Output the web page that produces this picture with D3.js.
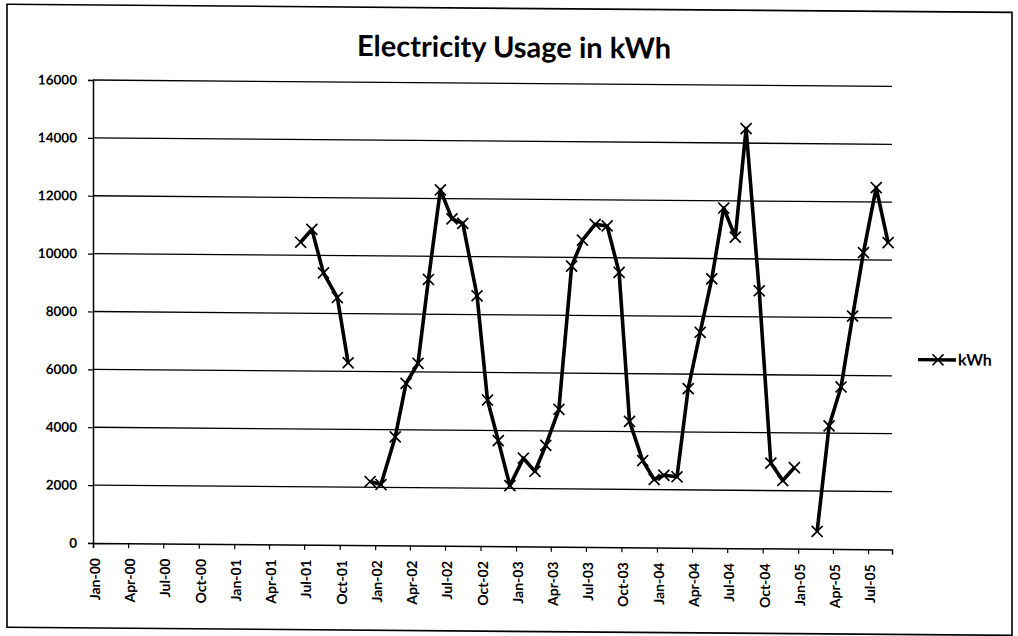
<!DOCTYPE html>
<html>
<head>
<meta charset="utf-8">
<script src="https://cdn.jsdelivr.net/npm/d3@7/dist/d3.min.js"></script>
<style>
  html, body { margin: 0; padding: 0; background: #fff; }
  svg { display: block; }
  text { font-family: Lato, "Open Sans", sans-serif; fill: #000; }
</style>
</head>
<body>
<svg id="chart" width="1018" height="636"></svg>
<script>
// ---- data ----
const chartTitle = "Electricity Usage in kWh";
const seriesName = "kWh";
const readingDates = [
  "2001-06-22","2001-07-21","2001-08-20","2001-09-25","2001-10-23","2001-11-22",
  "2001-12-19","2002-01-16","2002-02-22","2002-03-22","2002-04-22","2002-05-19",
  "2002-06-19","2002-07-19","2002-08-16","2002-09-22","2002-10-19","2002-11-16",
  "2002-12-16","2003-01-20","2003-02-19","2003-03-19","2003-04-22","2003-05-25",
  "2003-06-22","2003-07-25","2003-08-25","2003-09-25","2003-10-22","2003-11-25",
  "2003-12-25","2004-01-19","2004-02-22","2004-03-22","2004-04-22","2004-05-22",
  "2004-06-22","2004-07-22","2004-08-19","2004-09-22","2004-10-22","2004-11-22",
  "2004-12-22","2005-01-20","2005-02-19","2005-03-22","2005-04-22","2005-05-22",
  "2005-06-19","2005-07-22","2005-08-22"
];
const kwhValues = [
  10450, 10900, 9400, 8550, 6300, null,
  2200, 2100, 3750, 5600, 6300, 9200,
  12300, 11300, 11150, 8650, 5050, 3650,
  2100, 3050, 2600, 3500, 4750, 9700,
  10600, 11150, 11100, 9500, 4350, 3000,
  2350, 2500, 2450, 5500, 7450, 9300,
  11750, 10750, 14500, 8900, 2950, 2350,
  2800, null, 600, 4250, 5600, 8050,
  10250, 12500, 10600
];
const xTickLabels = [
  "Jan-00","Apr-00","Jul-00","Oct-00","Jan-01","Apr-01","Jul-01","Oct-01",
  "Jan-02","Apr-02","Jul-02","Oct-02","Jan-03","Apr-03","Jul-03","Oct-03",
  "Jan-04","Apr-04","Jul-04","Oct-04","Jan-05","Apr-05","Jul-05"
];
const xDomainLabels = ["Jan-00", "Sep-05"];
const yTicks = [0, 2000, 4000, 6000, 8000, 10000, 12000, 14000, 16000];

// ---- layout ----
const W = 1018, H = 636;
const plot = { left: 93, right: 892, top: 80, bottom: 543 };

const parseDay = d3.timeParse("%Y-%m-%d");
const parseTick = d3.timeParse("%b-%y");

const svg = d3.select("#chart");
svg.append("rect").attr("width", W).attr("height", H).attr("fill", "#fff");

// slight scan tilt: horizontal lines drop toward the right
const g = svg.append("g")
  .attr("transform", `translate(${plot.left},0) skewY(0.46) translate(${-plot.left},0)`);

// outer border
g.append("rect")
  .attr("x", 7).attr("y", 5).attr("width", 1005).attr("height", 623)
  .attr("fill", "none").attr("stroke", "#000").attr("stroke-width", 1.6);

const x = d3.scaleTime()
  .domain(xDomainLabels.map(parseTick))
  .range([plot.left, plot.right]);
const y = d3.scaleLinear()
  .domain([0, 16000])
  .range([plot.bottom, plot.top]);

// title
g.append("text")
  .attr("x", 514).attr("y", 54)
  .attr("text-anchor", "middle")
  .style("font-size", "29px").style("font-weight", "bold")
  .text(chartTitle);

// gridlines
g.append("g").selectAll("line")
  .data(yTicks.filter(v => v > 0))
  .join("line")
  .attr("x1", plot.left).attr("x2", plot.right)
  .attr("y1", d => y(d)).attr("y2", d => y(d))
  .attr("stroke", "#000").attr("stroke-width", 1.3);

// y axis
const yAxis = g.append("g")
  .attr("transform", `translate(${plot.left},0)`)
  .call(d3.axisLeft(y).tickValues(yTicks).tickSize(5).tickPadding(11).tickFormat(d3.format("d")));
yAxis.select(".domain").attr("stroke", "#000").attr("stroke-width", 1.5);
yAxis.selectAll(".tick line").attr("stroke", "#000").attr("stroke-width", 1.2);
yAxis.selectAll(".tick text")
  .style("font-family", "Lato, sans-serif").style("font-size", "13.5px").style("font-weight", "bold")
  .attr("fill", "#000");

// x axis
const xAxis = g.append("g")
  .attr("transform", `translate(0,${plot.bottom})`)
  .call(d3.axisBottom(x).tickValues(xTickLabels.map(parseTick)).tickSize(5)
        .tickFormat(d3.timeFormat("%b-%y")));
xAxis.select(".domain").attr("stroke", "#000").attr("stroke-width", 1.5);
xAxis.selectAll(".tick line").attr("stroke", "#000").attr("stroke-width", 1.2);
xAxis.selectAll(".tick text")
  .style("font-family", "Lato, sans-serif").style("font-size", "14px").style("font-weight", "bold")
  .attr("fill", "#000")
  .attr("text-anchor", "end")
  .attr("transform", "rotate(-90)")
  .attr("x", -15).attr("y", 2).attr("dy", "0.32em")
  .attr("dx", 0);

// series
const pts = readingDates.map((d, i) => ({ date: parseDay(d), v: kwhValues[i] }));
const line = d3.line()
  .defined(d => d.v !== null)
  .x(d => x(d.date)).y(d => y(d.v));

g.append("path")
  .datum(pts)
  .attr("d", line)
  .attr("fill", "none").attr("stroke", "#000")
  .attr("stroke-width", 3.6).attr("stroke-linejoin", "round");

const xMark = "M-5.5,-5.5L5.5,5.5M-5.5,5.5L5.5,-5.5";
g.append("g").selectAll("path")
  .data(pts.filter(d => d.v !== null))
  .join("path")
  .attr("transform", d => `translate(${x(d.date)},${y(d.v)})`)
  .attr("d", xMark)
  .attr("stroke", "#000").attr("stroke-width", 1.7).attr("fill", "none");

// legend
const lg = g.append("g").attr("transform", "translate(918,353)");
lg.append("line").attr("x1", 0).attr("x2", 38).attr("y1", 0).attr("y2", 0)
  .attr("stroke", "#000").attr("stroke-width", 3.4);
lg.append("path").attr("d", xMark).attr("transform", "translate(20,0)")
  .attr("stroke", "#000").attr("stroke-width", 1.6);
lg.append("text").attr("x", 40).attr("y", 0).attr("dy", "0.35em")
  .style("font-size", "16px").style("font-weight", "bold").text(seriesName);
</script>
</body>
</html>
